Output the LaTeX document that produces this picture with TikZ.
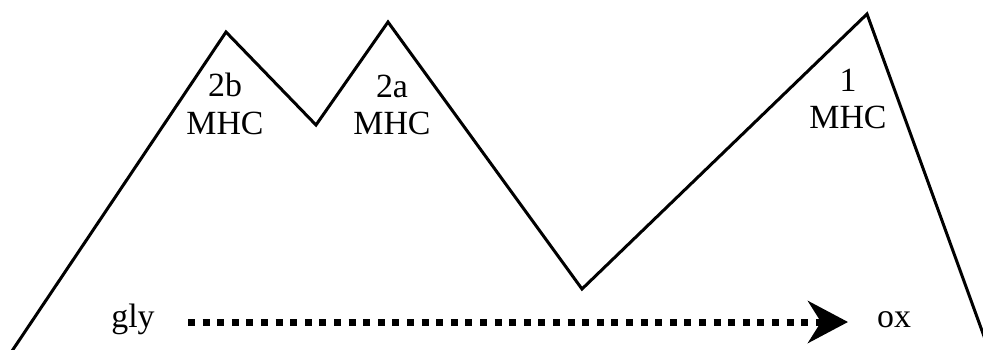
\documentclass[tikz,border=0pt]{standalone}
\usepackage{fontspec}
\setmainfont{Liberation Serif}
\usetikzlibrary{arrows.meta}
\begin{document}
\begin{tikzpicture}[x=1bp,y=-1bp,
  ridge/.style={line width=3bp, line join=miter},
  lbl/.style={font=\fontsize{34}{38}\selectfont, inner sep=0pt, align=center},
  flow/.style={line width=7bp, dash pattern=on 7bp off 7.6bp,
    -{Stealth[length=40bp,width=42bp,inset=13bp]}}]
\useasboundingbox (0,0) rectangle (983,349);
\coordinate (p0) at (12,351);
\coordinate (p1) at (226,32);
\coordinate (p2) at (316,125);
\coordinate (p3) at (388,22);
\coordinate (p4) at (582,289);
\coordinate (p5) at (867,14);
\coordinate (p6) at (985,339);
\draw[ridge] (p0) -- (p1) -- (p2) -- (p3) -- (p4) -- (p5) -- (p6);
\node[lbl] (t2b) at (225,104) {2b\\MHC};
\node[lbl] (t2a) at (392,105) {2a\\MHC};
\node[lbl] (t1) at (848,99) {1\\MHC};
\node[lbl, anchor=base] (gly) at (133,327) {gly};
\node[lbl, anchor=base] (ox) at (894,327) {ox};
\coordinate (as) at (188,322);
\coordinate (ae) at (848,322);
\draw[flow] (as) -- (ae);
\end{tikzpicture}
\end{document}
